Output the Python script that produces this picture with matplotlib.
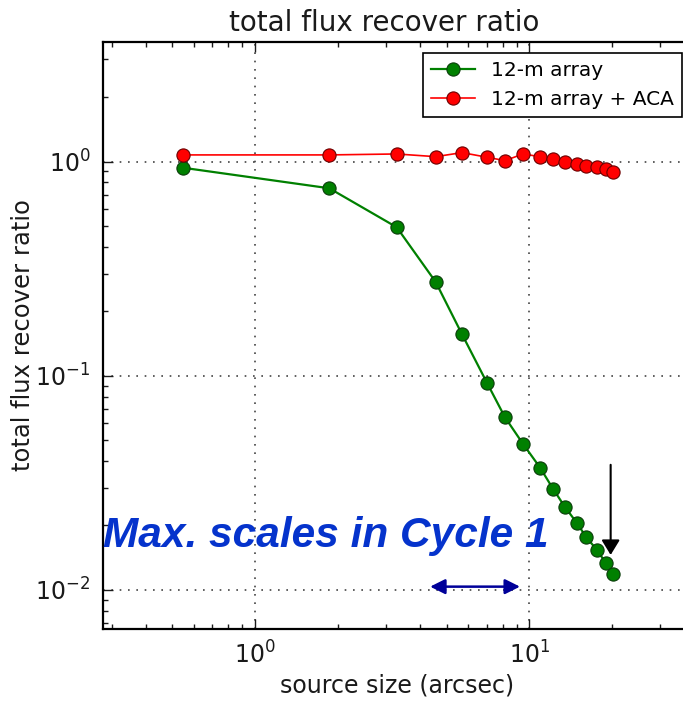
import numpy as np
import matplotlib
matplotlib.use("Agg")
import matplotlib.pyplot as plt

# source size (arcsec), same sampling for both configurations
source_size = [0.545, 1.866, 3.286, 4.558, 5.685, 7.03, 8.155, 9.485,
               10.94, 12.2, 13.46, 14.93, 16.10, 17.62, 18.99, 20.15]
ratio_12m = [0.937, 0.751, 0.494, 0.2743, 0.1563, 0.0921, 0.0640, 0.0481,
             0.0373, 0.0297, 0.0245, 0.0205, 0.0177, 0.0154, 0.0134, 0.0119]
ratio_12m_aca = [1.075, 1.075, 1.086, 1.055, 1.102, 1.048, 1.011, 1.086,
                 1.055, 1.030, 0.997, 0.979, 0.955, 0.942, 0.927, 0.895]
labels = ["12-m array", "12-m array + ACA"]

note_text = "Max. scales in Cycle 1"
span_arrow = (4.35, 9.25, 0.01036)      # x from, x to, y
max_arrow = (19.8, 0.0384, 0.01457)     # x, y from, y to

W, H = 683, 704
fig = plt.figure(figsize=(W / 100, H / 100), dpi=100)
ax = fig.add_axes([103 / W, 75 / H, 618 / W, 587 / H])

ax.plot(source_size, ratio_12m, "-o", color="green", lw=1.6, ms=9.5,
        mec="#0b3d0b", mew=0.8, label=labels[0], zorder=3)
ax.plot(source_size, ratio_12m_aca, "-o", color="red", lw=1.2, ms=9.5,
        mec="#6b0000", mew=0.8, label=labels[1], zorder=3)

ax.set_xscale("log")
ax.set_yscale("log")
ax.set_xlim(0.2792, 50.0)
ax.set_ylim(0.00657, 3.62)

ax.grid(True, which="major", color="#444444", linestyle=(0, (1, 4)), lw=1.2)
ax.tick_params(which="both", direction="in", top=True, right=True,
               labelsize=17, colors="#1a1a1a", pad=9)
ax.tick_params(which="major", length=7, width=1)
ax.tick_params(which="minor", length=3.5, width=1)
for s in ax.spines.values():
    s.set_linewidth(1.6)

ax.set_title("total flux recover ratio", fontsize=20, x=0.4555, pad=8,
             color="#1a1a1a")
ax.set_xlabel("source size (arcsec)", fontsize=17, color="#1a1a1a")
ax.xaxis.set_label_coords((397 - 103) / 618, -0.075)
ax.set_ylabel("total flux recover ratio", fontsize=17.5, labelpad=0,
              color="#1a1a1a")

leg = ax.legend(loc="upper right", bbox_to_anchor=(682 / W, 1 - 53 / H),
                bbox_transform=fig.transFigure, borderaxespad=0,
                fontsize=14.5, fancybox=False, edgecolor="black",
                handlelength=2.2, framealpha=1)
leg.get_frame().set_linewidth(1.2)

ax.text(0.0, 0.14, note_text, transform=ax.transAxes, ha="left",
        va="baseline", fontsize=30.5, fontweight="bold", fontstyle="italic",
        family="Liberation Sans", color="#0533cc", zorder=5)

ax.annotate("", xy=(span_arrow[1], span_arrow[2]),
            xytext=(span_arrow[0], span_arrow[2]),
            arrowprops=dict(arrowstyle="<|-|>,head_length=0.9,head_width=0.45",
                            color="#000099", lw=1.8, shrinkA=0, shrinkB=0))
ax.annotate("", xy=(max_arrow[0], max_arrow[2]),
            xytext=(max_arrow[0], max_arrow[1]),
            arrowprops=dict(arrowstyle="-|>,head_length=0.9,head_width=0.55",
                            color="black", lw=1.5, shrinkA=0, shrinkB=0))

fig.savefig("out.png", dpi=100)
